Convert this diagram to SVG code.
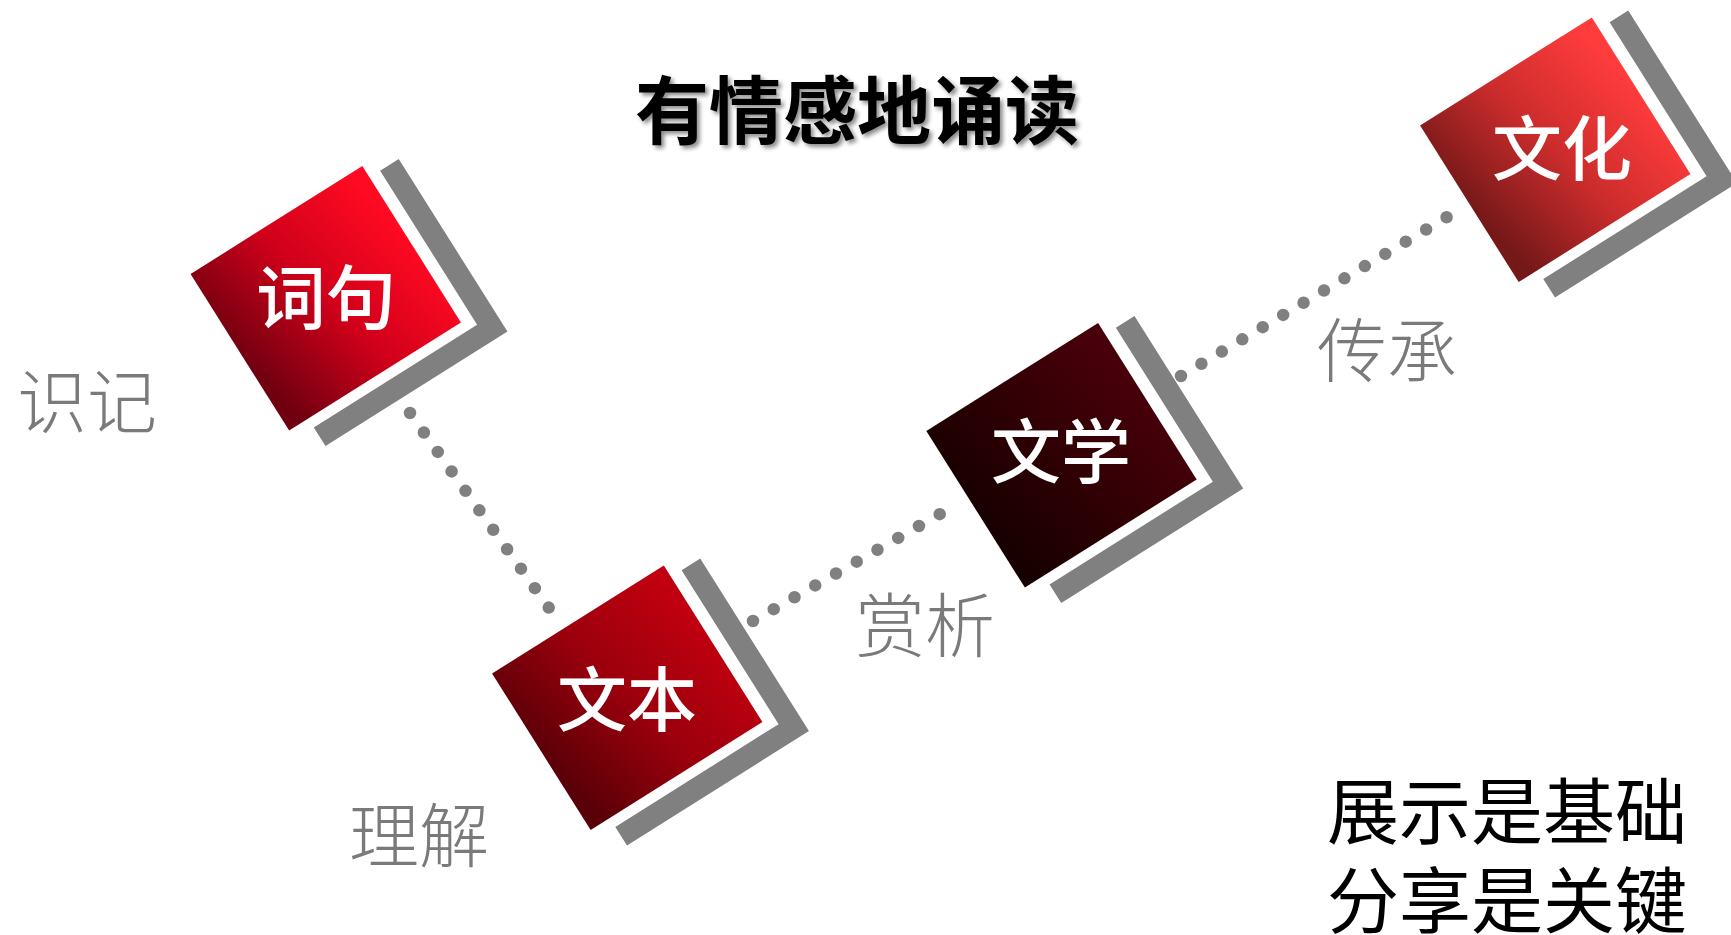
<svg xmlns="http://www.w3.org/2000/svg" xmlns:xlink="http://www.w3.org/1999/xlink" width="1731" height="935" viewBox="0 0 1731 935">
  <style>
    .nl { font-family: "Noto Sans CJK SC", "Noto Sans", sans-serif; font-size: 70px; fill: #ffffff; text-anchor: middle; font-weight: 500; }
    .gl { font-family: "Noto Sans CJK SC", "Noto Sans", sans-serif; font-size: 70px; fill: #7a7a7a; text-anchor: middle; font-weight: 300; }
    .bl { font-family: "Noto Sans CJK SC", "Noto Sans", sans-serif; font-size: 72px; fill: #000000; text-anchor: middle; font-weight: 400; }
    .title { font-family: "Noto Sans CJK SC", "Noto Sans", sans-serif; font-size: 74px; fill: #000000; text-anchor: middle; font-weight: 700; }
    .frame { fill: #808080; }
    .dots { fill: none; stroke: #808080; stroke-width: 12.5; stroke-linecap: round; }
  </style>
  <defs>
    <linearGradient id="gCiju" x1="0" y1="0.6" x2="1" y2="0.4">
      <stop offset="0" stop-color="#700010"/>
      <stop offset="0.5" stop-color="#d0001a"/>
      <stop offset="1" stop-color="#ff0a22"/>
    </linearGradient>
    <linearGradient id="gWenben" x1="0" y1="0.6" x2="1" y2="0.4">
      <stop offset="0" stop-color="#5a0008"/>
      <stop offset="0.5" stop-color="#9a000c"/>
      <stop offset="1" stop-color="#c00010"/>
    </linearGradient>
    <linearGradient id="gWenxue" x1="0" y1="0.6" x2="1" y2="0.4">
      <stop offset="0" stop-color="#180000"/>
      <stop offset="0.5" stop-color="#300004"/>
      <stop offset="1" stop-color="#48000a"/>
    </linearGradient>
    <linearGradient id="gWenhua" x1="0" y1="0.6" x2="1" y2="0.4">
      <stop offset="0" stop-color="#741818"/>
      <stop offset="0.5" stop-color="#cc2c2c"/>
      <stop offset="1" stop-color="#ff3c3c"/>
    </linearGradient>
    <path id="frameL" class="frame" d="M114,-79 L136,-79 L136,125 L-79,125 L-79,103 L114,103 Z"/>
    <filter id="shadow" x="-10%" y="-30%" width="120%" height="160%">
      <feDropShadow dx="3" dy="3" stdDeviation="2" flood-color="#000000" flood-opacity="0.45"/>
    </filter>
  </defs>
  <rect width="1731" height="935" fill="#ffffff"/>

  <g id="title">
    <text class="title" x="857" y="138" filter="url(#shadow)">有情感地诵读</text>
  </g>

  <g id="connectors">
    <path class="dots" d="M410,413 L549,608" stroke-dasharray="0 23.9"/>
    <path class="dots" d="M753,621 L940,514" stroke-dasharray="0 23.9"/>
    <path class="dots" d="M1181,376 L1447,217" stroke-dasharray="0 23.8"/>
  </g>

  <g id="node-ciju">
    <g transform="translate(325.75,298.25) rotate(-32.2)">
      <use xlink:href="#frameL" href="#frameL"/>
      <rect x="-101.5" y="-92.5" width="203" height="185" fill="url(#gCiju)"/>
    </g>
    <text class="nl" x="326" y="324">词句</text>
  </g>

  <g id="node-wenben">
    <g transform="translate(627.25,697.75) rotate(-32.2)">
      <use xlink:href="#frameL" href="#frameL"/>
      <rect x="-101.5" y="-92.5" width="203" height="185" fill="url(#gWenben)"/>
    </g>
    <text class="nl" x="627" y="726">文本</text>
  </g>

  <g id="node-wenxue">
    <g transform="translate(1061.5,455.25) rotate(-32.2)">
      <use xlink:href="#frameL" href="#frameL"/>
      <rect x="-101.5" y="-92.5" width="203" height="185" fill="url(#gWenxue)"/>
    </g>
    <text class="nl" x="1061" y="478">文学</text>
  </g>

  <g id="node-wenhua">
    <g transform="translate(1555.25,149.75) rotate(-32.2)">
      <use xlink:href="#frameL" href="#frameL"/>
      <rect x="-101.5" y="-92.5" width="203" height="185" fill="url(#gWenhua)"/>
    </g>
    <text class="nl" x="1562" y="175">文化</text>
  </g>

  <g id="labels">
    <text class="gl" x="87" y="428">识记</text>
    <text class="gl" x="419" y="862">理解</text>
    <text class="gl" x="925" y="652">赏析</text>
    <text class="gl" x="1387" y="377">传承</text>
  </g>

  <g id="summary">
    <text class="bl" x="1507" y="838"><tspan x="1507" y="838">展示是基础</tspan><tspan x="1507" y="927">分享是关键</tspan></text>
  </g>
</svg>
